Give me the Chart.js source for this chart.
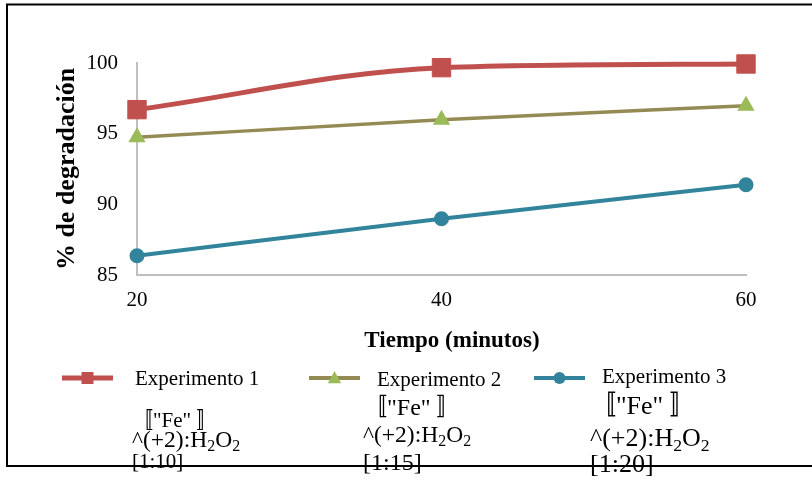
<!DOCTYPE html>
<html>
<head>
<meta charset="utf-8">
<script src="https://cdn.jsdelivr.net/npm/chart.js@4"></script>
<style>
  html, body { margin: 0; padding: 0; background: #fff; }
  #wrap { width: 812px; height: 480px; }
</style>
</head>
<body>
<div id="wrap"><canvas id="chart" width="812" height="480"></canvas></div>
<script>
// data
const tiempos = ['20', '40', '60'];
const exp1 = [96.7, 99.67, 99.93];
const exp2 = [94.74, 95.98, 96.98];
const exp3 = [86.36, 88.98, 91.39];
const yTicks = [85, 90, 95, 100];
const serieNombres = ['Experimento 1', 'Experimento 2', 'Experimento 3'];
const relaciones = ['[1:10]', '[1:15]', '[1:20]'];

const SERIF = '"Liberation Serif", "Times New Roman", "Noto Sans CJK JP", serif';

// legend layout (custom, the original one is a broken equation render)
const legendCols = [
  { x0: 62, x1: 113, ty: 378, tx: 135, tb: 385, sx: 132, fe: [21, 427], eq: [23.5, 447], rel: [21, 468] },
  { x0: 309, x1: 360, ty: 378, tx: 377, tb: 386, sx: 363, fe: [24, 415], eq: [23.5, 442], rel: [24, 470] },
  { x0: 534, x1: 585, ty: 378, tx: 602, tb: 383, sx: 590, fe: [26, 414], eq: [26, 446], rel: [26, 472] }
];

function drawMarker(ctx, style, x, y, r, color) {
  ctx.fillStyle = color;
  ctx.beginPath();
  if (style === 'rect') { ctx.rect(x - r, y - r, 2 * r, 2 * r); }
  else if (style === 'triangle') { ctx.moveTo(x, y - r); ctx.lineTo(x + r * 0.95, y + r * 0.75); ctx.lineTo(x - r * 0.95, y + r * 0.75); ctx.closePath(); }
  else { ctx.arc(x, y, r, 0, Math.PI * 2); }
  ctx.fill();
}

const legendPlugin = {
  id: 'legendaExp',
  afterDraw(chart) {
    const ctx = chart.ctx;
    ctx.save();
    // x axis title, sits a bit right of centre in the original
    ctx.fillStyle = '#000'; ctx.textAlign = 'center'; ctx.textBaseline = 'alphabetic';
    ctx.font = 'bold 23px ' + SERIF;
    ctx.fillText('Tiempo (minutos)', 452, 347);

    chart.data.datasets.forEach((ds, i) => {
      const c = legendCols[i];
      ctx.strokeStyle = ds.borderColor; ctx.lineWidth = i === 0 ? 5 : 4;
      ctx.beginPath(); ctx.moveTo(c.x0, c.ty); ctx.lineTo(c.x1, c.ty); ctx.stroke();
      const mid = (c.x0 + c.x1) / 2;
      drawMarker(ctx, ds.pointStyle, mid, c.ty, i === 0 ? 6 : (i === 1 ? 7 : 6), ds.pointBackgroundColor);

      ctx.fillStyle = '#000'; ctx.textAlign = 'left'; ctx.textBaseline = 'alphabetic';
      ctx.font = '21px ' + SERIF;
      ctx.fillText(serieNombres[i], c.tx, c.tb);

      ctx.font = c.fe[0] + 'px ' + SERIF;
      ctx.fillText('\u301A"Fe" \u301B', c.sx, c.fe[1]);

      // ^(+2):H2O2 with lowered small 2s
      let f = c.eq[0], x = c.sx, b = c.eq[1];
      const part = (t, size, dy) => { ctx.font = size + 'px ' + SERIF; ctx.fillText(t, x, b + dy); x += ctx.measureText(t).width; };
      part('^(+2):H', f, 0); part('2', f * 0.68, f * 0.18); part('O', f, 0); part('2', f * 0.68, f * 0.18);

      ctx.font = c.rel[0] + 'px ' + SERIF;
      ctx.fillText(relaciones[i], c.sx, c.rel[1]);
    });

    // outer frame (right side runs off the picture)
    ctx.strokeStyle = '#000'; ctx.lineWidth = 2;
    ctx.strokeRect(7, 4.5, 900, 461.5);
    ctx.restore();
  }
};

new Chart(document.getElementById('chart'), {
  type: 'line',
  data: {
    labels: tiempos,
    datasets: [
      { label: serieNombres[0], data: exp1, borderColor: '#C0504D', backgroundColor: '#C0504D', pointBackgroundColor: '#C0504D', pointBorderColor: '#C0504D',
        borderWidth: 5, pointStyle: 'rect', pointRadius: 13, pointBorderWidth: 1, cubicInterpolationMode: 'monotone' },
      { label: serieNombres[1], data: exp2, borderColor: '#948A54', backgroundColor: '#9BBB59', pointBackgroundColor: '#9BBB59', pointBorderColor: '#9BBB59',
        borderWidth: 3.5, pointStyle: 'triangle', pointRadius: 10, pointBorderWidth: 0, cubicInterpolationMode: 'monotone' },
      { label: serieNombres[2], data: exp3, borderColor: '#31849B', backgroundColor: '#31849B', pointBackgroundColor: '#31849B', pointBorderColor: '#31849B',
        borderWidth: 4, pointStyle: 'circle', pointRadius: 7.5, pointBorderWidth: 0, cubicInterpolationMode: 'monotone' }
    ]
  },
  options: {
    responsive: false, animation: false, clip: false,
    layout: { padding: { left: 52, top: 63, right: 66, bottom: 128 } },
    plugins: { legend: { display: false }, tooltip: { enabled: false } },
    scales: {
      x: {
        offset: false,
        grid: { display: false, drawTicks: false },
        border: { display: true, color: '#BFBFBF', width: 2 },
        ticks: { color: '#000', padding: 13, maxRotation: 0, font: { family: SERIF, size: 21 } },
        afterFit: s => { s.height = 77; }
      },
      y: {
        min: 85, max: 100,
        grid: { display: false, drawTicks: false },
        border: { display: true, color: '#BFBFBF', width: 2 },
        afterBuildTicks: s => { s.ticks = yTicks.map(v => ({ value: v })); },
        ticks: { color: '#000', padding: 19, font: { family: SERIF, size: 21 } },
        title: { display: true, text: '% de degradación', color: '#000', padding: 0, font: { family: SERIF, size: 26, weight: 'bold' } },
        afterFit: s => { s.width = 85; }
      }
    }
  },
  plugins: [legendPlugin]
});
</script>
</body>
</html>
